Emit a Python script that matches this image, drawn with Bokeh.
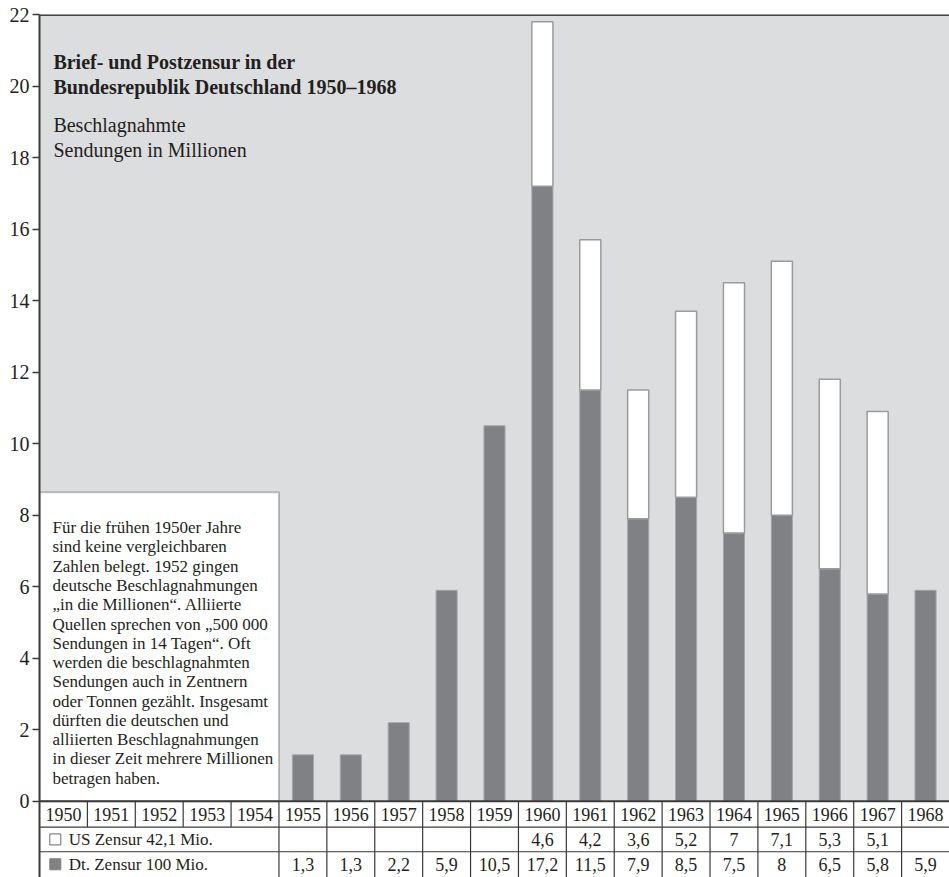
from bokeh.plotting import figure
from bokeh.models import Range1d, FixedTicker, BoxAnnotation, Span
from bokeh.core.properties import value
from bokeh.embed import file_html
from bokeh.resources import INLINE

# ---------------- data ----------------
years = list(range(1950, 1969))
dt_years = [1955, 1956, 1957, 1958, 1959, 1960, 1961, 1962, 1963, 1964, 1965, 1966, 1967, 1968]
dt_values = [1.3, 1.3, 2.2, 5.9, 10.5, 17.2, 11.5, 7.9, 8.5, 7.5, 8, 6.5, 5.8, 5.9]
us_years = [1960, 1961, 1962, 1963, 1964, 1965, 1966, 1967]
us_values = [4.6, 4.2, 3.6, 5.2, 7, 7.1, 5.3, 5.1]
y_ticks = [0, 2, 4, 6, 8, 10, 12, 14, 16, 18, 20, 22]
row_labels = ["US Zensur 42,1 Mio.", "Dt. Zensur 100 Mio."]
title_lines = ["Brief- und Postzensur in der", "Bundesrepublik Deutschland 1950\u20131968"]
subtitle_lines = ["Beschlagnahmte", "Sendungen in Millionen"]
note_lines = [
    "F\u00fcr die fr\u00fchen 1950er Jahre",
    "sind keine vergleichbaren",
    "Zahlen belegt. 1952 gingen",
    "deutsche Beschlagnahmungen",
    "\u201ein die Millionen\u201c.  Alliierte",
    "Quellen sprechen von \u201e500 000",
    "Sendungen in 14 Tagen\u201c. Oft",
    "werden die beschlagnahmten",
    "Sendungen auch in Zentnern",
    "oder Tonnen gez\u00e4hlt. Insgesamt",
    "d\u00fcrften die deutschen und",
    "alliierten Beschlagnahmungen",
    "in dieser Zeit mehrere Millionen",
    "betragen haben.",
]

# ---------------- style ----------------
FONT = "Liberation Serif"
TXT = "#231f20"
BG = "#dcdddf"
DARK = "#808184"
LINE = "#3a3a3a"

def fmt(v):
    return f"{v:g}".replace(".", ",")

dt_map = dict(zip(dt_years, dt_values))
us_bottom = [dt_map[y] for y in us_years]
us_top = [b + v for b, v in zip(us_bottom, us_values)]

p = figure(width=949, height=877, output_backend="svg", toolbar_location=None,
           x_range=Range1d(years[0] - 0.5, years[-1] + 0.5),
           y_range=Range1d(-2.13, 22),
           x_axis_location=None,
           min_border_left=39, min_border_right=0, min_border_top=14, min_border_bottom=0)
p.background_fill_color = BG
p.border_fill_color = "white"
p.outline_line_color = None
p.grid.visible = False

ax = p.yaxis[0]
ax.ticker = FixedTicker(ticks=y_ticks)
ax.axis_line_color = LINE
ax.axis_line_width = 2
ax.major_tick_line_color = LINE
ax.major_tick_line_width = 1.5
ax.major_tick_out = 7
ax.major_tick_in = 0
ax.minor_tick_line_color = None
ax.major_label_text_font = FONT
ax.major_label_text_font_size = "20px"
ax.major_label_text_color = TXT
ax.major_label_standoff = 3

# table background and note box
p.add_layout(BoxAnnotation(top=0, fill_color="white", fill_alpha=1, line_color=None, level="underlay"))
p.add_layout(BoxAnnotation(left=years[0] - 0.5, right=1954.5, bottom=0, top=8.64,
                           fill_color="white", fill_alpha=1, line_color=LINE, line_width=2,
                           level="underlay"))
p.add_layout(Span(location=22, dimension="width", line_color="#444444", line_width=3))

# bars
p.vbar(x=dt_years, top=dt_values, bottom=0, width=0.44, fill_color=DARK,
       line_color="#a5a6a8", line_width=1)
p.vbar(x=us_years, top=us_top, bottom=us_bottom, width=0.44, fill_color="white",
       line_color="#9a9b9d", line_width=1.5)

# table grid
row1, row2 = -0.72, -1.41
ybot = -2.2
bounds = [y + 0.5 for y in years[:-1]]
x0 = []; y0 = []; x1 = []; y1 = []
for b in bounds:
    x0.append(b); x1.append(b); y0.append(0); y1.append(row1)
    if b >= 1954.5:
        x0.append(b); x1.append(b); y0.append(row1); y1.append(ybot)
for hy in (row1, row2):
    x0.append(years[0] - 0.5); x1.append(years[-1] + 0.5); y0.append(hy); y1.append(hy)
p.segment(x0=x0, y0=y0, x1=x1, y1=y1, line_color=LINE, line_width=1.2)
p.segment(x0=[years[0] - 0.5], y0=[0], x1=[years[-1] + 0.5], y1=[0], line_color=LINE, line_width=2)

# table texts
ry_year, ry_us, ry_dt = -0.36, -1.065, -1.76
p.text(x=years, y=[ry_year] * len(years), text=[str(y) for y in years],
       text_font=value(FONT), text_font_size="18px", text_color=TXT,
       text_align="center", text_baseline="middle")
p.text(x=us_years, y=[ry_us] * len(us_years), text=[fmt(v) for v in us_values],
       text_font=value(FONT), text_font_size="18px", text_color=TXT,
       text_align="center", text_baseline="middle")
p.text(x=dt_years, y=[ry_dt] * len(dt_years), text=[fmt(v) for v in dt_values],
       text_font=value(FONT), text_font_size="18px", text_color=TXT,
       text_align="center", text_baseline="middle")
p.scatter(x=[1949.83], y=[ry_us], marker="square", size=11, fill_color="white",
          line_color="#6a6a6a", line_width=1)
p.scatter(x=[1949.83], y=[ry_dt], marker="square", size=11, fill_color=DARK,
          line_color=DARK, line_width=1)
p.text(x=[1950.11, 1950.11], y=[ry_us, ry_dt], text=row_labels,
       text_font=value(FONT), text_font_size="17px", text_color=TXT,
       text_align="left", text_baseline="middle")

# titles
tx = 1949.79
p.text(x=[tx, tx], y=[20.66, 19.96], text=title_lines, text_font=value(FONT),
       text_font_size="20px", text_font_style="bold", text_color=TXT,
       text_align="left", text_baseline="alphabetic")
p.text(x=[tx, tx], y=[18.90, 18.20], text=subtitle_lines, text_font=value(FONT),
       text_font_size="20px", text_color=TXT,
       text_align="left", text_baseline="alphabetic")

# note
step = 0.5385
p.text(x=[1949.77] * len(note_lines), y=[7.65 - i * step for i in range(len(note_lines))],
       text=note_lines, text_font=value(FONT), text_font_size="17px", text_color=TXT,
       text_align="left", text_baseline="alphabetic")

open("out.html", "w").write(file_html(p, INLINE))
